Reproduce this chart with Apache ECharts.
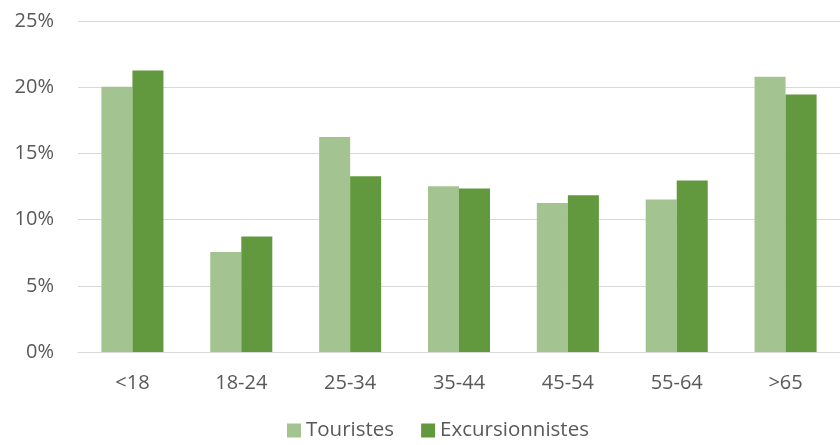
<!DOCTYPE html>
<html>
<head>
<meta charset="utf-8">
<script src="https://cdn.jsdelivr.net/npm/echarts@6/dist/echarts.min.js"></script>
<style>
html,body{margin:0;padding:0;background:#fff;}
#chart{width:840px;height:445px;}
</style>
</head>
<body>
<div id="chart"></div>
<script>
const categories = ['<18', '18-24', '25-34', '35-44', '45-54', '55-64', '>65'];
const touristes = [20.03, 7.56, 16.23, 12.52, 11.26, 11.52, 20.79];
const excursionnistes = [21.27, 8.72, 13.28, 12.35, 11.84, 12.95, 19.45];
const seriesNames = ['Touristes', 'Excursionnistes'];

const font = 'Open Sans';
const chart = echarts.init(document.getElementById('chart'));
chart.setOption({
  animation: false,
  textStyle: { fontFamily: font },
  grid: { left: 78, right: -3, top: 21, bottom: 93, containLabel: false },
  legend: {
    bottom: -1,
    left: 282,
    itemWidth: 14,
    itemHeight: 14,
    itemGap: 27,
    icon: 'rect',
    textStyle: { fontFamily: font, fontSize: 20.5, color: '#595959' },
    data: seriesNames
  },
  xAxis: {
    type: 'category',
    data: categories,
    axisLine: { lineStyle: { color: '#d9d9d9', width: 1 } },
    axisTick: { show: false },
    axisLabel: { margin: 21, fontSize: 20, color: '#595959', fontFamily: font }
  },
  yAxis: {
    type: 'value',
    min: 0,
    max: 25,
    interval: 5,
    axisLine: { show: false },
    axisTick: { show: false },
    splitLine: { lineStyle: { color: '#d9d9d9', width: 1 } },
    axisLabel: { margin: 24, fontSize: 20, color: '#595959', fontFamily: font, formatter: v => v + '%' }
  },
  series: [
    {
      name: seriesNames[0], type: 'bar', data: touristes,
      barGap: '0%', barCategoryGap: '43%',
      itemStyle: { color: '#A3C490' }
    },
    {
      name: seriesNames[1], type: 'bar', data: excursionnistes,
      barGap: '0%', barCategoryGap: '43%',
      itemStyle: { color: '#63993E' }
    }
  ]
});
</script>
</body>
</html>
